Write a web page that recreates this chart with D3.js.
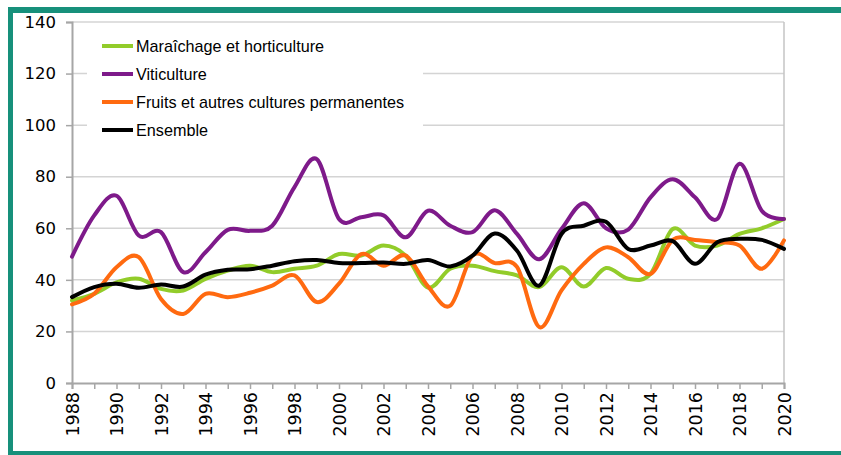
<!DOCTYPE html>
<html>
<head>
<meta charset="utf-8">
<script src="https://cdn.jsdelivr.net/npm/d3@7"></script>
<style>
  html, body { margin: 0; padding: 0; background: #fff; }
  svg { display: block; }
</style>
</head>
<body>
<svg id="chart" width="841" height="455"></svg>
<script>
const years = d3.range(1988, 2021);
const yTicks = [0, 20, 40, 60, 80, 100, 120, 140];
const xLabelYears = d3.range(1988, 2021, 2);

const seriesNames = ["Maraîchage et horticulture", "Viticulture", "Fruits et autres cultures permanentes", "Ensemble"];
const seriesColors = ["#92cc2a", "#7e1a8a", "#ff6a10", "#000000"];

const maraichage = [32, 34.6, 39, 40.4, 36.5, 35.9, 40.4, 43.6, 45.5, 43, 44.3, 45.5, 50, 49.4, 53.3, 49.4, 37, 44.3, 45.5, 43.4, 41.7, 37.2, 44.9, 37.4, 44.6, 40.4, 42.3, 59.7, 53.3, 53.3, 57.8, 60, 63.6];
const viticulture = [49, 65, 72.6, 57.2, 58.5, 43, 50.7, 59.4, 59, 61, 76, 86.8, 63.6, 64.3, 65, 56.5, 66.8, 61, 58.5, 67, 57.8, 48, 59.7, 69.7, 60, 59.5, 72, 79, 72, 63.6, 85, 66.8, 63.6];
const fruits = [30.5, 34.6, 44.9, 48.8, 32.6, 26.8, 34.6, 33.3, 35, 37.8, 41.7, 31.4, 38.5, 50, 45.5, 49.4, 37.5, 30, 49.4, 46.5, 45, 21.7, 35.9, 46.2, 52.6, 48.8, 42.3, 55.5, 55.5, 54.6, 53.3, 44.3, 55.3];
const ensemble = [33.3, 37.2, 38.5, 36.9, 38.2, 37.4, 42, 43.9, 44.1, 45.5, 47.2, 47.7, 46.5, 46.5, 46.7, 46.2, 47.7, 45.2, 49.4, 58, 51.3, 37.8, 57.8, 61, 62.5, 52, 53.3, 55, 46.2, 54.6, 55.9, 55.5, 52];

const seriesValues = [maraichage, viticulture, fruits, ensemble];

const svg = d3.select("#chart");
const teal = "#17907b";

// frame
svg.append("rect").attr("x", 8).attr("y", 7).attr("width", 833).attr("height", 6).attr("fill", teal);
svg.append("rect").attr("x", 8).attr("y", 7).attr("width", 5).attr("height", 448).attr("fill", teal);
svg.append("rect").attr("x", 8).attr("y", 451).attr("width", 833).attr("height", 4).attr("fill", teal);

const pLeft = 72, pRight = 784, pTop = 22, pBottom = 383;
const x = d3.scaleLinear().domain([1988, 2020]).range([pLeft, pRight]);
const y = d3.scaleLinear().domain([0, 140]).range([pBottom, pTop]);

// gridlines
svg.append("g").selectAll("line").data(yTicks.filter(d => d > 0)).join("line")
  .attr("x1", pLeft).attr("x2", pRight)
  .attr("y1", d => y(d)).attr("y2", d => y(d))
  .attr("stroke", "#d4d4d4").attr("stroke-width", 1.5);

// right border
svg.append("line").attr("x1", pRight).attr("x2", pRight).attr("y1", pTop).attr("y2", pBottom)
  .attr("stroke", "#c4c4c4").attr("stroke-width", 1.5);

// y axis
const yAxis = d3.axisLeft(y).tickValues(yTicks).tickSize(6).tickPadding(10);
const gy = svg.append("g").attr("transform", `translate(${pLeft},0)`).call(yAxis);
gy.select(".domain").attr("stroke", "#a6a6a6").attr("stroke-width", 2);
gy.selectAll(".tick line").attr("stroke", "#a6a6a6").attr("stroke-width", 1.5);
gy.selectAll(".tick text").attr("font-family", "DejaVu Sans").attr("font-size", 16.5).attr("fill", "#000");

// x axis
const xAxis = d3.axisBottom(x).tickValues(years).tickSize(6).tickFormat(d => xLabelYears.includes(d) ? d : "");
const gx = svg.append("g").attr("transform", `translate(0,${pBottom})`).call(xAxis);
gx.select(".domain").attr("stroke", "#a6a6a6").attr("stroke-width", 2);
gx.selectAll(".tick line").attr("stroke", "#a6a6a6").attr("stroke-width", 1.5);
gx.selectAll(".tick text")
  .attr("font-family", "DejaVu Sans").attr("font-size", 17.5).attr("fill", "#000")
  .attr("transform", "rotate(-90)")
  .attr("text-anchor", "end")
  .attr("x", -9).attr("y", 0).attr("dy", "0.36em");

// lines
const line = d3.line().x((d, i) => x(years[i])).y(d => y(d)).curve(d3.curveCardinal.tension(0));
svg.append("g").selectAll("path").data(seriesValues).join("path")
  .attr("d", d => line(d))
  .attr("fill", "none")
  .attr("stroke", (d, i) => seriesColors[i])
  .attr("stroke-width", 4)
  .attr("stroke-linejoin", "round")
  .attr("stroke-linecap", "round");

// legend
svg.append("rect").attr("x", 87).attr("y", 28).attr("width", 336).attr("height", 116).attr("fill", "#fff");
const lg = svg.append("g").selectAll("g").data(seriesNames).join("g")
  .attr("transform", (d, i) => `translate(102,${46 + i * 28})`);
lg.append("line").attr("x1", 0).attr("x2", 31).attr("y1", 0).attr("y2", 0)
  .attr("stroke", (d, i) => seriesColors[i]).attr("stroke-width", 4);
lg.append("text").attr("x", 34).attr("y", 0).attr("dy", "0.35em")
  .attr("font-family", "Liberation Sans, Arial, sans-serif").attr("font-size", 16.2)
  .attr("fill", "#000").text(d => d);
</script>
</body>
</html>
